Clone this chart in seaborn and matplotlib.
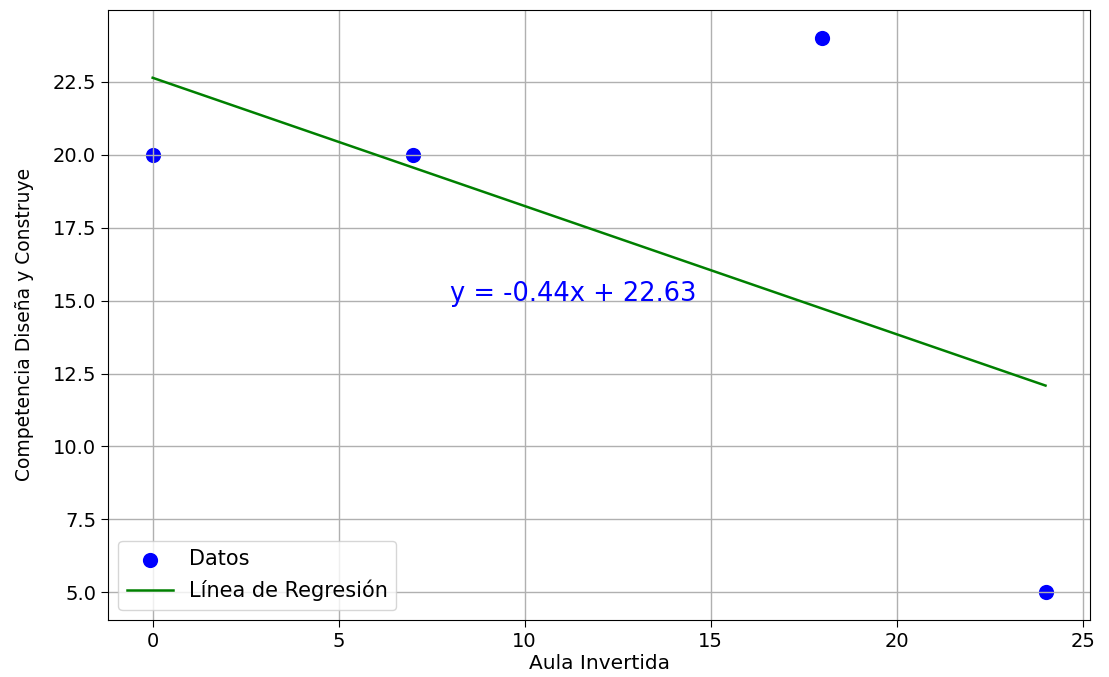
import numpy as np
import pandas as pd
import matplotlib
matplotlib.use("Agg")
import matplotlib.pyplot as plt
import seaborn as sns

aula_invertida = [0, 7, 18, 24]
competencia = [20, 20, 24, 5]

x = np.array(aula_invertida, dtype=float)
y = np.array(competencia, dtype=float)
slope, intercept = np.polyfit(x, y, 1)
df = pd.DataFrame({"x": x, "y": y, "fit": slope * x + intercept})

fig = plt.figure(figsize=(11.09, 6.77), dpi=100)
ax = fig.add_axes([0.0974, 0.084, 0.8856, 0.901])

sns.scatterplot(data=df, x="x", y="y", ax=ax, color="blue", s=120,
                linewidth=0, label="Datos", zorder=1)
sns.lineplot(data=df, x="x", y="fit", ax=ax, color="green", linewidth=1.8,
             label="Línea de Regresión", zorder=2)

ax.text(8, 15, f"y = {slope:.2f}x + {intercept:.2f}", color="blue", fontsize=18.5)

ax.set_xlabel("Aula Invertida", fontsize=14.5)
ax.set_ylabel("Competencia Diseña y Construye", fontsize=13.5)
ax.yaxis.set_label_coords(-0.075, 0.485)
ax.xaxis.set_label_coords(0.5, -0.055)
ax.tick_params(labelsize=14, length=5)
ax.set_xticks([0, 5, 10, 15, 20, 25])
ax.set_yticks([5, 7.5, 10, 12.5, 15, 17.5, 20, 22.5])
ax.grid(True, color="#b0b0b0", linewidth=1)
ax.legend(loc="lower left", fontsize=15, handlelength=2.2)

fig.savefig("out.png", dpi=100)
